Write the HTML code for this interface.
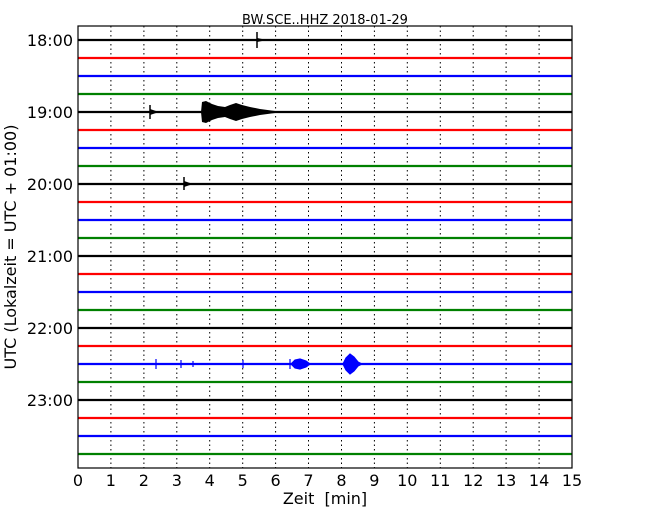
<!DOCTYPE html>
<html><head><meta charset="utf-8"><style>body{margin:0;background:#fff}svg{display:block}</style></head><body>
<svg width="650" height="520" xmlns="http://www.w3.org/2000/svg" font-family="'DejaVu Sans','Liberation Sans',sans-serif">
<rect width="650" height="520" fill="#fff"/>
<g stroke="#000" stroke-width="1" stroke-dasharray="1.5,3">
<line x1="110.9" y1="26" x2="110.9" y2="468"/><line x1="143.9" y1="26" x2="143.9" y2="468"/><line x1="176.8" y1="26" x2="176.8" y2="468"/><line x1="209.7" y1="26" x2="209.7" y2="468"/><line x1="242.7" y1="26" x2="242.7" y2="468"/><line x1="275.6" y1="26" x2="275.6" y2="468"/><line x1="308.5" y1="26" x2="308.5" y2="468"/><line x1="341.5" y1="26" x2="341.5" y2="468"/><line x1="374.4" y1="26" x2="374.4" y2="468"/><line x1="407.3" y1="26" x2="407.3" y2="468"/><line x1="440.3" y1="26" x2="440.3" y2="468"/><line x1="473.2" y1="26" x2="473.2" y2="468"/><line x1="506.1" y1="26" x2="506.1" y2="468"/><line x1="539.1" y1="26" x2="539.1" y2="468"/>
</g>
<g stroke-width="2.2">
<line x1="78" x2="572" y1="40" y2="40" stroke="#000"/><line x1="78" x2="572" y1="58" y2="58" stroke="#f00"/><line x1="78" x2="572" y1="76" y2="76" stroke="#00f"/><line x1="78" x2="572" y1="94" y2="94" stroke="#008000"/>
<line x1="78" x2="572" y1="112" y2="112" stroke="#000"/><line x1="78" x2="572" y1="130" y2="130" stroke="#f00"/><line x1="78" x2="572" y1="148" y2="148" stroke="#00f"/><line x1="78" x2="572" y1="166" y2="166" stroke="#008000"/>
<line x1="78" x2="572" y1="184" y2="184" stroke="#000"/><line x1="78" x2="572" y1="202" y2="202" stroke="#f00"/><line x1="78" x2="572" y1="220" y2="220" stroke="#00f"/><line x1="78" x2="572" y1="238" y2="238" stroke="#008000"/>
<line x1="78" x2="572" y1="256" y2="256" stroke="#000"/><line x1="78" x2="572" y1="274" y2="274" stroke="#f00"/><line x1="78" x2="572" y1="292" y2="292" stroke="#00f"/><line x1="78" x2="572" y1="310" y2="310" stroke="#008000"/>
<line x1="78" x2="572" y1="328" y2="328" stroke="#000"/><line x1="78" x2="572" y1="346" y2="346" stroke="#f00"/><line x1="78" x2="572" y1="364" y2="364" stroke="#00f"/><line x1="78" x2="572" y1="382" y2="382" stroke="#008000"/>
<line x1="78" x2="572" y1="400" y2="400" stroke="#000"/><line x1="78" x2="572" y1="418" y2="418" stroke="#f00"/><line x1="78" x2="572" y1="436" y2="436" stroke="#00f"/><line x1="78" x2="572" y1="454" y2="454" stroke="#008000"/>
</g>
<g stroke="#000" stroke-width="1.5">
<line x1="257" y1="32" x2="257" y2="48"/><line x1="150" y1="105" x2="150" y2="119"/><line x1="184" y1="177" x2="184" y2="190"/>
</g>
<path fill="#000" d="M201,112 L202,102 L206,101 L212,104 L218,106 L225,107 L230,105 L236,103 L242,105 L250,107 L260,109 L275,111 L280,112 L275,113 L260,115 L250,117 L242,119 L236,121 L230,119 L225,117 L218,118 L212,120 L206,123 L202,122 Z"/>
<path fill="#000" d="M150,109 L156,111 L156,113 L150,115 Z M184,181 L190,183 L190,185 L184,187 Z M257,38 L262,39 L262,41 L257,42 Z"/>
<line x1="165" y1="274" x2="170" y2="274" stroke="#f00" stroke-width="2"/>
<g fill="#00f" stroke="#00f" stroke-width="1.2">
<line x1="156" y1="359" x2="156" y2="369"/><line x1="181" y1="360" x2="181" y2="368"/><line x1="193" y1="361" x2="193" y2="367"/><line x1="243" y1="360" x2="243" y2="368"/><line x1="290" y1="359" x2="290" y2="369"/>
<path d="M291,364 L295,360 L300,359 L306,361 L310,364 L306,367 L300,369 L295,368 Z"/>
<path d="M343,364 L346,358 L350,354 L354,357 L358,362 L362,364 L358,366 L354,371 L350,374 L346,370 Z"/>
</g>
<rect x="78" y="26" width="494" height="442" fill="none" stroke="#000" stroke-width="1.2"/>
<g stroke="#000" stroke-width="1">
<line x1="78" y1="40" x2="84" y2="40"/><line x1="78" y1="112" x2="84" y2="112"/><line x1="78" y1="184" x2="84" y2="184"/><line x1="78" y1="256" x2="84" y2="256"/><line x1="78" y1="328" x2="84" y2="328"/><line x1="78" y1="400" x2="84" y2="400"/>
</g>
<g font-size="16" text-anchor="end" fill="#000">
<text x="73" y="46">18:00</text><text x="73" y="118">19:00</text><text x="73" y="190">20:00</text><text x="73" y="262">21:00</text><text x="73" y="334">22:00</text><text x="73" y="406">23:00</text>
</g>
<g font-size="16" text-anchor="middle" fill="#000">
<text x="78" y="486">0</text><text x="110.9" y="486">1</text><text x="143.9" y="486">2</text><text x="176.8" y="486">3</text><text x="209.7" y="486">4</text><text x="242.7" y="486">5</text><text x="275.6" y="486">6</text><text x="308.5" y="486">7</text><text x="341.5" y="486">8</text><text x="374.4" y="486">9</text><text x="407.3" y="486">10</text><text x="440.3" y="486">11</text><text x="473.2" y="486">12</text><text x="506.1" y="486">13</text><text x="539.1" y="486">14</text><text x="572" y="486">15</text>
<text x="325" y="504" xml:space="preserve">Zeit  [min]</text>
<text x="325" y="24" font-size="13">BW.SCE..HHZ 2018-01-29</text>
<text transform="translate(16,247) rotate(-90)">UTC (Lokalzeit = UTC + 01:00)</text>
</g>
</svg>
</body></html>
